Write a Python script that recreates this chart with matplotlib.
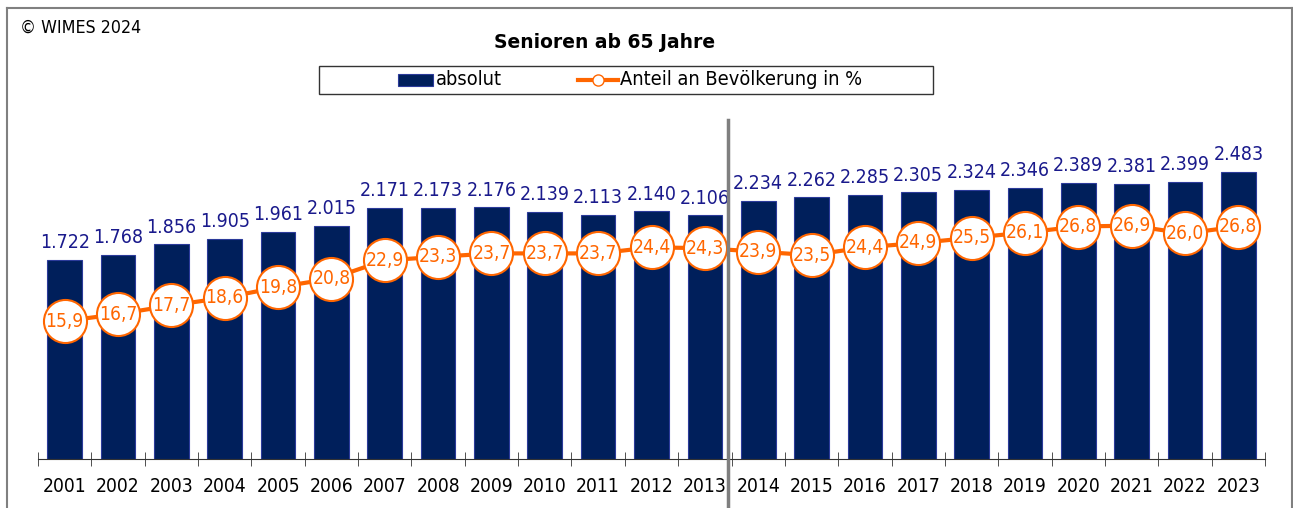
import matplotlib
matplotlib.use('Agg')
import matplotlib.pyplot as plt
import matplotlib.patches as patches
import matplotlib.font_manager as fm
from matplotlib.lines import Line2D
import numpy as np

plt.rcParams['font.family'] = 'DejaVu Sans'

# Daten
years = [str(y) for y in range(2001, 2024)]
absolut = [1722, 1768, 1856, 1905, 1961, 2015, 2171, 2173, 2176, 2139, 2113, 2140,
           2106, 2234, 2262, 2285, 2305, 2324, 2346, 2389, 2381, 2399, 2483]
anteil = [15.9, 16.7, 17.7, 18.6, 19.8, 20.8, 22.9, 23.3, 23.7, 23.7, 23.7, 24.4,
          24.3, 23.9, 23.5, 24.4, 24.9, 25.5, 26.1, 26.8, 26.9, 26.0, 26.8]

navy = '#001F5B'
label_blue = '#1A1A8C'
orange = '#FF6600'

# schmale Schrift, falls vorhanden
names = {(f.name, f.stretch) for f in fm.fontManager.ttflist}
if ('DejaVu Sans', 'condensed') in names or ('DejaVu Sans', 'semi-condensed') in names:
    narrow = dict(family='DejaVu Sans', stretch='condensed')
    sc = 1.0
elif any(n == 'Liberation Sans Narrow' for n, _ in names):
    narrow = dict(family='Liberation Sans Narrow')
    sc = 1.1
else:
    narrow = dict(family='DejaVu Sans')
    sc = 0.9

W, H = 1293, 508
fig = plt.figure(figsize=(W / 100, H / 100), dpi=100)

# Rahmen
fig.add_artist(Line2D([7 / W, 7 / W], [0, 1 - 8 / H], color='#808080', lw=1.5))
fig.add_artist(Line2D([7 / W, 1292 / W], [1 - 8 / H, 1 - 8 / H], color='#808080', lw=1.5))
fig.add_artist(Line2D([1292 / W, 1292 / W], [0, 1 - 8 / H], color='#808080', lw=1.5))

ax = fig.add_axes([38 / W, 49 / H, (1265 - 38) / W, (459 - 112) / H])
x = np.arange(len(years))
ax.bar(x, absolut, width=0.65, color=navy, edgecolor='#2B3A9A', linewidth=0.8, zorder=2)
ax.set_xlim(-0.5, len(years) - 0.5)
ax.set_ylim(0, 3000)

for xi, v in zip(x, absolut):
    ax.annotate(f'{v:,}'.replace(',', '.'), (xi, v), xytext=(0, 8.5), textcoords='offset points',
                ha='center', va='baseline', fontsize=14 * sc, color=label_blue, **narrow)

ax2 = ax.twinx()
ax2.set_ylim(0, 40)
ax2.plot(x, anteil, color=orange, lw=3, marker='o', markersize=31,
         markerfacecolor='white', markeredgecolor=orange, markeredgewidth=1.5, zorder=3)
for xi, v in zip(x, anteil):
    ax2.text(xi, v, f'{v:.1f}'.replace('.', ','), ha='center', va='center',
             fontsize=13.8 * sc, color=orange, zorder=4, **narrow)

for a in (ax, ax2):
    for s in ['top', 'right', 'left']:
        a.spines[s].set_visible(False)
    a.set_yticks([])
ax2.spines['bottom'].set_visible(False)
ax.spines['bottom'].set_color('#333333')

ax.set_xticks(x)
ax.set_xticklabels(years, fontsize=13.8 * sc, **narrow)
ax.tick_params(axis='x', length=0, pad=13)
ax.set_xticks(np.arange(-0.5, len(years)), minor=True)
ax.tick_params(axis='x', which='minor', direction='inout', length=10, color='#333333')

# Trennlinie zwischen 2013 und 2014
fig.add_artist(Line2D([728 / W, 728 / W], [0, 1 - 120 / H], color='#7F7F7F', lw=2.5))

# Titel und Copyright
fig.text(605 / W, 1 - 42 / H, 'Senioren ab 65 Jahre', ha='center', va='center',
         fontsize=13.5, fontweight='bold')
fig.text(20 / W, 1 - 28 / H, '© WIMES 2024', ha='left', va='center', fontsize=12.8 * sc, **narrow)

# Legende
fig.add_artist(patches.Rectangle((319 / W, 1 - 94 / H), (933 - 319) / W, 28 / H,
                                 transform=fig.transFigure, fill=False, edgecolor='#333333', lw=1))
fig.add_artist(patches.Rectangle((398 / W, 1 - 86 / H), 35 / W, 12 / H,
                                 transform=fig.transFigure, facecolor=navy, edgecolor='#2B3A9A', lw=0.8))
fig.text(436 / W, 1 - 80 / H, 'absolut', ha='left', va='center', fontsize=14.3 * sc, **narrow)
fig.add_artist(Line2D([578 / W, 618 / W], [1 - 80 / H, 1 - 80 / H], color=orange, lw=3))
fig.add_artist(Line2D([598 / W], [1 - 80 / H], color=orange, lw=0, marker='o', markersize=8,
                      markerfacecolor='white', markeredgecolor=orange))
fig.text(620 / W, 1 - 80 / H, 'Anteil an Bevölkerung in %', ha='left', va='center',
         fontsize=14.3 * sc, **narrow)

fig.savefig('out.png', dpi=100)
